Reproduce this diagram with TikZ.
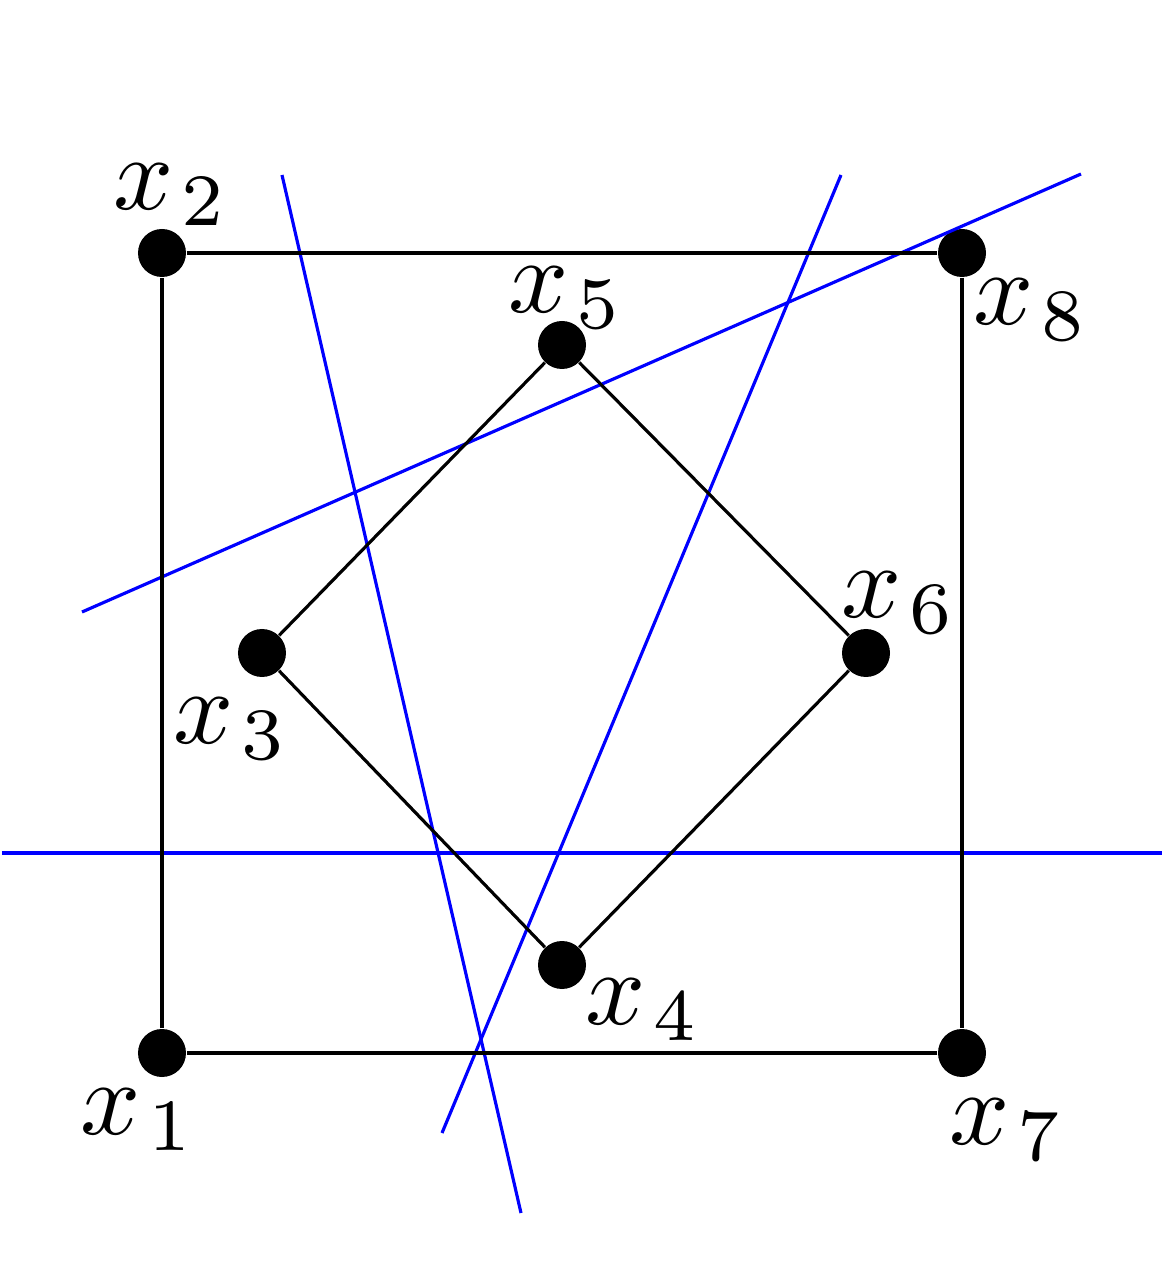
\documentclass[tikz,border=0pt]{standalone}
\usepackage{tikz}

\tikzset{
  pt/.style={circle, fill=black, minimum size=0.48cm, inner sep=0pt},
  lbl/.style={font=\normalsize, scale=3, transform shape, inner sep=0pt},
  edge/.style={line width=0.9pt, black},
  cut/.style={line width=0.9pt, blue}
}
\newcommand{\xlab}[1]{$x_{\mkern1.5mu #1}$}

\begin{document}
\begin{tikzpicture}
  \useasboundingbox (-1.62,-2.31) rectangle (10.06,10.53);

  % Points
  \node[pt] (x1) at (0,0) {};
  \node[pt] (x2) at (0,8) {};
  \node[pt] (x3) at (1,4) {};
  \node[pt] (x4) at (4,0.88) {};
  \node[pt] (x5) at (4,7.08) {};
  \node[pt] (x6) at (7.04,4) {};
  \node[pt] (x7) at (8,0) {};
  \node[pt] (x8) at (8,8) {};

  % Separating lines
  \coordinate (a1) at (1.2,8.78);
  \coordinate (a2) at (3.59,-1.6);
  \coordinate (b1) at (6.79,8.78);
  \coordinate (b2) at (2.8,-0.8);
  \coordinate (c1) at (-0.8,4.41);
  \coordinate (c2) at (9.19,8.79);
  \coordinate (d1) at (-1.6,2);
  \coordinate (d2) at (10.0,2);
  \draw[cut] (a1) -- (a2);
  \draw[cut] (b1) -- (b2);
  \draw[cut] (c1) -- (c2);
  \draw[cut] (d1) -- (d2);

  % Square and diamond
  \draw[edge] (x1) -- (x2) -- (x8) -- (x7) -- (x1);
  \draw[edge] (x3) -- (x5) -- (x6) -- (x4) -- (x3);

  % Labels
  \node[lbl] (l1) at (-0.24,-0.67) {\xlab{1}};
  \node[lbl] (l2) at (0.09,8.58) {\xlab{2}};
  \node[lbl] (l3) at (0.69,3.24) {\xlab{3}};
  \node[lbl] (l4) at (4.81,0.43) {\xlab{4}};
  \node[lbl] (l5) at (4.04,7.55) {\xlab{5}};
  \node[lbl] (l6) at (7.37,4.5) {\xlab{6}};
  \node[lbl] (l7) at (8.45,-0.77) {\xlab{7}};
  \node[lbl] (l8) at (8.69,7.43) {\xlab{8}};
\end{tikzpicture}
\end{document}
